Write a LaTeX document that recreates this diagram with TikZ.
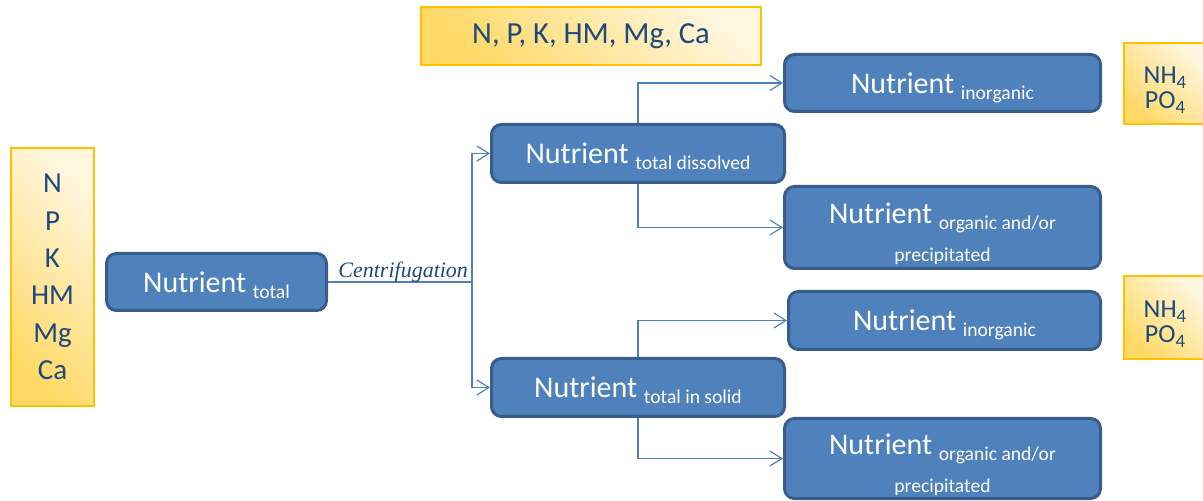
\documentclass[tikz,border=0pt]{standalone}
\usepackage{fontspec}
\setmainfont{Carlito}
\newfontfamily\centrifont{Liberation Serif}
\usetikzlibrary{arrows.meta}
\definecolor{nutblue}{HTML}{4F81BD}
\definecolor{nutedge}{HTML}{385D8A}
\definecolor{elemtext}{HTML}{1F497D}
\definecolor{elemdark}{HTML}{FFD966}
\definecolor{elemlight}{HTML}{FFF6DE}
\definecolor{elemedge}{HTML}{FFC000}
\newcommand{\nsub}[1]{\raisebox{-3pt}{\fontsize{9.8}{11}\selectfont #1}}
\newcommand{\isub}[1]{\raisebox{-2.5pt}{\fontsize{9.5}{10}\selectfont #1}}
\tikzset{
    nutrient/.style={draw=nutedge, fill=nutblue, line width=1.5pt, rounded corners=5pt,
        text=white, font=\fontsize{15}{16}\selectfont, inner sep=0pt, align=center},
    element/.style={draw=elemedge, line width=0.6pt, bottom color=elemdark, top color=elemlight,
        shading angle=-45, text=elemtext, inner sep=0pt, align=center},
    link/.style={draw=nutblue, line width=0.6pt},
    split/.style={link, -{Straight Barb[length=6pt,width=7.5pt]}}
}
\begin{document}
\begin{tikzpicture}[x=0.5pt,y=-0.5pt]
        \useasboundingbox (0,0) rectangle (1203,501);
        \node[element, minimum width=41.5pt, minimum height=129pt,
            font=\fontsize{14.5}{18.7}\selectfont] (elemcol) at (52.5,277) {N\\P\\K\\HM\\Mg\\Ca};
        \node[element, minimum width=170pt, minimum height=29pt,
            font=\fontsize{15.3}{17}\selectfont] (elemrow) at (591,36) {N, P, K, HM, Mg, Ca};
        \node[element, minimum width=41pt, minimum height=40.5pt,
            font=\fontsize{13}{12.5}\selectfont] (ionA) at (1165,83.5) {\rule{0pt}{15pt}NH\isub{4}\\PO\isub{4}};
        \node[element, minimum width=41pt, minimum height=41.5pt,
            font=\fontsize{13}{12.5}\selectfont] (ionB) at (1165,317.5) {\rule{0pt}{15pt}NH\isub{4}\\PO\isub{4}};
        \node[nutrient, minimum width=110pt, minimum height=28.5pt, text height=12.5pt, text depth=2pt]
            (total) at (216.5,282) {Nutrient \nsub{total}};
        \node[nutrient, minimum width=146.5pt, minimum height=29pt, text height=12.5pt, text depth=2pt]
            (dissolved) at (638,153.5) {Nutrient \nsub{total dissolved}};
        \node[nutrient, minimum width=146.5pt, minimum height=29pt, text height=12.5pt, text depth=2pt]
            (solid) at (638,387.5) {Nutrient \nsub{total in solid}};
        \node[nutrient, minimum width=158pt, minimum height=28.5pt, text height=12.5pt, text depth=2pt]
            (inorgA) at (942.5,83) {Nutrient \nsub{inorganic}};
        \node[nutrient, minimum width=158pt, minimum height=41pt]
            (orgA) at (942.5,227.5) {\rule{0pt}{17pt}Nutrient \nsub{organic and/or}\\[3pt]{\fontsize{9.8}{11}\selectfont precipitated}};
        \node[nutrient, minimum width=156pt, minimum height=29pt, text height=12.5pt, text depth=2pt]
            (inorgB) at (944.5,320.5) {Nutrient \nsub{inorganic}};
        \node[nutrient, minimum width=158pt, minimum height=40pt]
            (orgB) at (942.5,458.5) {\rule{0pt}{17pt}Nutrient \nsub{organic and/or}\\[3pt]{\fontsize{9.8}{11}\selectfont precipitated}};
        \coordinate (fork) at (472,282);
        \draw[link] (total.east) -- (fork);
        \node[anchor=base west, inner sep=0pt, text=elemtext, font=\centrifont\itshape\fontsize{11}{13}\selectfont]
            (centri) at (338,278) {Centrifugation};
        \draw[split] (fork) |- (dissolved.west);
        \draw[split] (fork) |- (solid.west);
        \draw[split] (dissolved.north) |- (inorgA.west);
        \draw[split] (dissolved.south) |- (orgA.west);
        \draw[split] (solid.north) |- (inorgB.west);
        \draw[split] (solid.south) |- (orgB.west);
    \end{tikzpicture}
\end{document}
